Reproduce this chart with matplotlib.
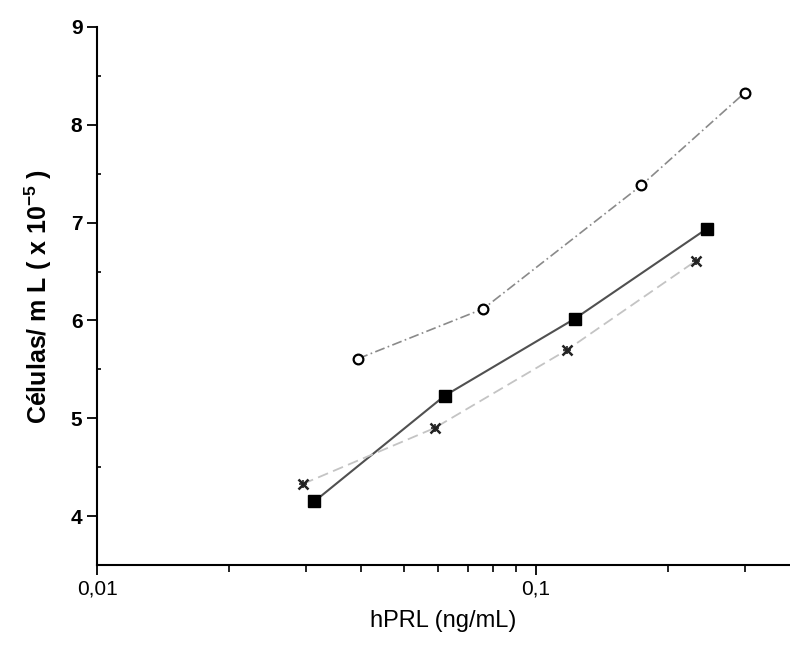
import numpy as np
import matplotlib.pyplot as plt
from matplotlib.ticker import FixedLocator, NullFormatter

plt.rcParams['font.family'] = ['Liberation Sans', 'DejaVu Sans']

# data
circ_x = [0.0394, 0.076, 0.174, 0.30]
circ_y = [5.61, 6.12, 7.38, 8.33]

sq_x = [0.0313, 0.062, 0.123, 0.246]
sq_y = [4.15, 5.23, 6.02, 6.94]

ast_x = [0.0295, 0.0588, 0.118, 0.232]
ast_y = [4.33, 4.90, 5.70, 6.61]

fig = plt.figure(figsize=(7.9, 6.52), dpi=100)
ax = fig.add_axes([0.1228, 0.1334, 0.8772, 0.8252])

ax.plot(circ_x, circ_y, color='#8a8a8a', lw=1.2, ls=(0, (6, 2, 1, 2)),
        marker='o', ms=7, mfc='white', mec='black', mew=1.6)
ax.plot(sq_x, sq_y, color='#505050', lw=1.5, ls='-',
        marker='s', ms=8, mfc='black', mec='black')
ax.plot(ast_x, ast_y, color='#c4c4c4', lw=1.3, ls=(0, (6, 3)),
        marker='x', ms=7, mec='#222222', mew=1.8)
ax.plot(ast_x, ast_y, ls='none', marker='+', ms=6, mec='#222222', mew=1.2)

ax.set_xscale('log')
ax.set_xlim(0.01, 0.38)
ax.set_ylim(3.5, 9)

ax.xaxis.set_major_locator(FixedLocator([0.01, 0.1]))
ax.set_xticklabels(['0,01', '0,1'])
ax.xaxis.set_minor_locator(FixedLocator([0.02, 0.03, 0.04, 0.05, 0.06, 0.07, 0.08, 0.09, 0.2, 0.3]))
ax.xaxis.set_minor_formatter(NullFormatter())

ax.set_yticks([4, 5, 6, 7, 8, 9])
ax.yaxis.set_minor_locator(FixedLocator([4.5, 5.5, 6.5, 7.5, 8.5]))

ax.tick_params(axis='both', which='major', direction='out', length=7, width=1.3)
ax.tick_params(axis='x', which='major', labelsize=15)
ax.tick_params(axis='y', which='major', labelsize=15)
ax.tick_params(axis='x', which='minor', direction='out', length=5, width=1.2)
ax.tick_params(axis='y', which='minor', direction='in', length=3, width=1.2)
for lab in ax.get_yticklabels():
    lab.set_fontweight('bold')

ax.spines['top'].set_visible(False)
ax.spines['right'].set_visible(False)
ax.spines['left'].set_linewidth(1.5)
ax.spines['bottom'].set_linewidth(1.5)

ax.set_xlabel('hPRL (ng/mL)', fontsize=17, labelpad=8)
ax.set_ylabel('Células/ m L ( x 10$^{\\mathregular{-5}}$ )', fontsize=18,
              fontweight='bold', labelpad=12)

fig.savefig('out.png', dpi=100)
